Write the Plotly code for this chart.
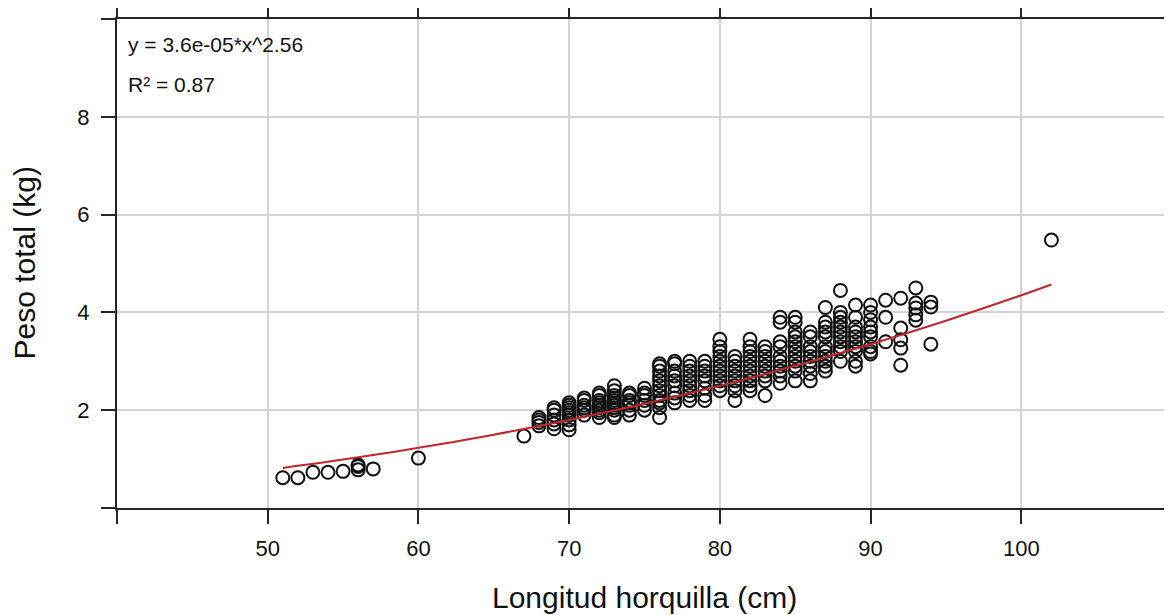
import plotly.graph_objects as go

# Observed data: fork length (cm) -> list of total weights (kg)
lengths = [51, 52, 53, 54, 55, 56, 57, 60, 67, 68, 69, 70, 71, 72, 73, 74, 75, 76, 77, 78, 79,
           80, 81, 82, 83, 84, 85, 86, 87, 88, 89, 90, 91, 92, 93, 94, 102]
weights = [
    [0.62],
    [0.62],
    [0.73],
    [0.73],
    [0.75],
    [0.78, 0.85, 0.88],
    [0.80],
    [1.02],
    [1.47],
    [1.68, 1.75, 1.80, 1.85],
    [1.62, 1.72, 1.80, 1.90, 2.00, 2.05],
    [1.60, 1.70, 1.80, 1.90, 1.95, 2.00, 2.05, 2.10, 2.15],
    [1.90, 2.00, 2.05, 2.10, 2.20, 2.25],
    [1.85, 1.95, 2.00, 2.05, 2.10, 2.15, 2.20, 2.30, 2.35],
    [1.85, 1.90, 2.00, 2.05, 2.10, 2.15, 2.20, 2.25, 2.30, 2.40, 2.50],
    [1.90, 2.00, 2.10, 2.15, 2.20, 2.30, 2.35],
    [2.00, 2.10, 2.20, 2.30, 2.35, 2.45],
    [1.85, 2.05, 2.15, 2.20, 2.30, 2.40, 2.50, 2.60, 2.70, 2.80, 2.90, 2.95],
    [2.15, 2.25, 2.35, 2.50, 2.60, 2.70, 2.80, 2.95, 3.00],
    [2.20, 2.30, 2.40, 2.50, 2.60, 2.70, 2.80, 2.90, 3.00],
    [2.20, 2.30, 2.45, 2.60, 2.70, 2.80, 2.90, 3.00],
    [2.40, 2.50, 2.60, 2.70, 2.80, 2.90, 3.00, 3.10, 3.20, 3.30, 3.45],
    [2.20, 2.40, 2.50, 2.60, 2.70, 2.80, 2.90, 3.00, 3.10],
    [2.40, 2.50, 2.60, 2.70, 2.80, 2.90, 3.00, 3.10, 3.20, 3.30, 3.45],
    [2.30, 2.60, 2.70, 2.80, 2.90, 3.00, 3.10, 3.20, 3.30],
    [2.55, 2.70, 2.80, 2.90, 3.00, 3.10, 3.30, 3.40, 3.80, 3.90],
    [2.60, 2.80, 2.90, 3.00, 3.10, 3.20, 3.30, 3.40, 3.50, 3.60, 3.80, 3.90],
    [2.60, 2.75, 2.90, 3.00, 3.10, 3.20, 3.30, 3.50, 3.60],
    [2.80, 2.90, 3.00, 3.10, 3.20, 3.30, 3.50, 3.60, 3.70, 3.80, 4.10],
    [3.00, 3.20, 3.30, 3.40, 3.50, 3.60, 3.70, 3.80, 3.90, 4.00, 4.45],
    [2.90, 3.00, 3.20, 3.30, 3.40, 3.50, 3.60, 3.70, 3.90, 4.15],
    [3.15, 3.20, 3.30, 3.50, 3.60, 3.70, 3.85, 4.00, 4.15],
    [3.40, 3.90, 4.25],
    [2.92, 3.27, 3.44, 3.68, 4.29],
    [3.84, 3.95, 4.09, 4.19, 4.50],
    [3.35, 4.11, 4.21],
    [5.48],
]

# Fitted curve
fit_x = [51, 55, 60, 65, 70, 75, 80, 85, 90, 95, 100, 102]
fit_y = [0.82, 0.99, 1.23, 1.50, 1.80, 2.13, 2.50, 2.91, 3.35, 3.83, 4.35, 4.57]

x_ticks = [40, 50, 60, 70, 80, 90, 100, 110]
x_labels = ["", "50", "60", "70", "80", "90", "100", ""]
y_ticks = [0, 2, 4, 6, 8, 10]
y_labels = ["", "2", "4", "6", "8", ""]

eq_text = "y = 3.6e-05*x^2.56"
r2_text = "R² = 0.87"
x_title = "Longitud horquilla (cm)"
y_title = "Peso total (kg)"

px_list, py_list = [], []
for L, ws in zip(lengths, weights):
    for w in ws:
        px_list.append(L)
        py_list.append(w)

FONT = "Liberation Sans, Arial, sans-serif"
TXT = "#111111"
AX = "#262626"
GRID = "#d4d4d4"

fig = go.Figure()
fig.add_trace(go.Scatter(
    x=px_list, y=py_list, mode="markers",
    marker=dict(symbol="circle-open", size=13, color="#111111", line=dict(width=2, color="#111111")),
    showlegend=False, hoverinfo="x+y"))
fig.add_trace(go.Scatter(
    x=fit_x, y=fit_y, mode="lines", line=dict(color="#bd2830", width=2, shape="spline"),
    showlegend=False))

fig.add_annotation(x=0.0086, y=0.947, xref="paper", yref="paper", text=eq_text, showarrow=False,
                   xanchor="left", yanchor="middle", font=dict(family=FONT, size=21, color=TXT))
fig.add_annotation(x=0.0086, y=0.867, xref="paper", yref="paper", text=r2_text, showarrow=False,
                   xanchor="left", yanchor="middle", font=dict(family=FONT, size=21, color=TXT))

# Axis titles placed precisely in the margins
fig.add_annotation(x=0.5, y=0, xref="paper", yref="paper", yshift=-89, text=x_title, showarrow=False,
                   xanchor="center", yanchor="middle", font=dict(family=FONT, size=30, color=TXT))
fig.add_annotation(x=0, y=0.5, xref="paper", yref="paper", xshift=-93, text=y_title, showarrow=False,
                   textangle=-90, xanchor="center", yanchor="middle", font=dict(family=FONT, size=30, color=TXT))

axis_common = dict(showline=True, linecolor=AX, linewidth=2, mirror="ticks", ticks="outside",
                   ticklen=14, tickwidth=2, tickcolor=AX, showgrid=True, gridcolor=GRID, gridwidth=2,
                   zeroline=False, automargin=False,
                   tickfont=dict(family=FONT, size=22, color=TXT))

fig.update_xaxes(range=[40, 110], tickvals=x_ticks, ticktext=x_labels, ticklabelstandoff=6, **axis_common)
fig.update_yaxes(range=[0, 10], tickvals=y_ticks, ticktext=y_labels, ticklabelstandoff=7, **axis_common)

# page body has an 8px margin; size the figure so the plot lands where the reference has it
fig.update_layout(width=1164, height=607, margin=dict(l=109, r=0, t=11, b=107),
                  plot_bgcolor="white", paper_bgcolor="white", font=dict(family=FONT))

fig.write_html("out.html")
